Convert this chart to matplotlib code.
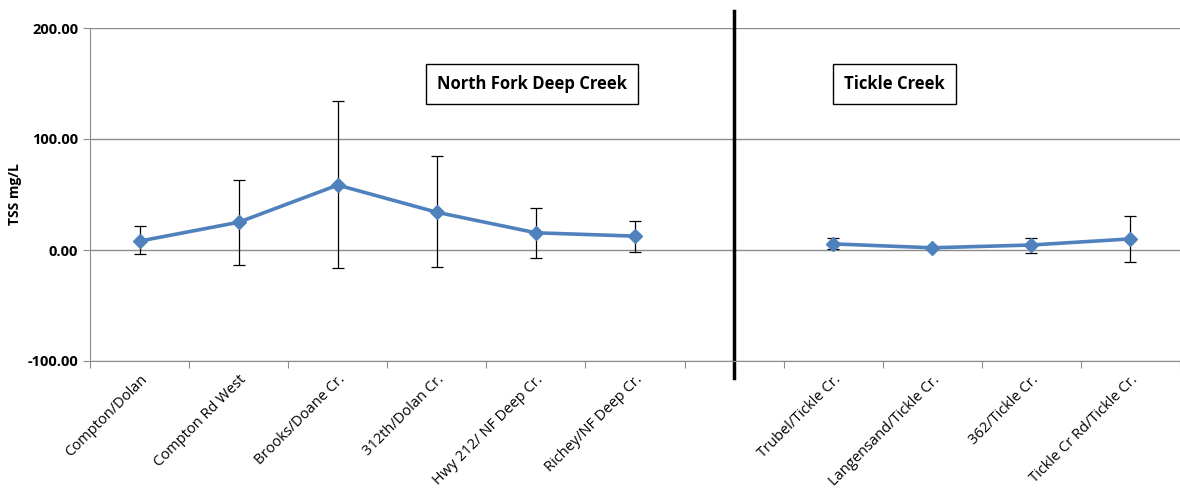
import numpy as np
import matplotlib.pyplot as plt
from matplotlib.transforms import ScaledTranslation

plt.rcParams['font.family'] = ['Open Sans', 'DejaVu Sans']

# Sites (an empty slot separates the two creeks)
sites = ['Compton/Dolan', 'Compton Rd West', 'Brooks/Doane Cr.', '312th/Dolan Cr.',
         'Hwy 212/ NF Deep Cr.', 'Richey/NF Deep Cr.', '',
         'Trubel/Tickle Cr.', 'Langensand/Tickle Cr.', '362/Tickle Cr.', 'Tickle Cr Rd/Tickle Cr.']
tss_mean = [8.0, 25.0, 58.5, 34.0, 15.5, 12.5, np.nan, 5.5, 2.0, 4.5, 10.0]
err_upper = [22.0, 63.5, 134.0, 85.0, 38.0, 26.0, np.nan, 11.0, 3.0, 11.0, 30.5]
err_lower = [-4.0, -13.5, -16.0, -15.0, -7.0, -2.0, np.nan, 0.5, 1.0, -3.0, -11.0]
y_ticks = [-100, 0, 100, 200]

x = np.arange(len(sites))
mean = np.array(tss_mean)
yerr = [mean - np.array(err_lower), np.array(err_upper) - mean]

fig = plt.figure(figsize=(11.8, 4.92), dpi=100)
ax = fig.add_axes([90 / 1180, 1 - 361 / 492, 1090 / 1180, 333 / 492])

ax.errorbar(x, mean, yerr=yerr, fmt='none', ecolor='black', elinewidth=0.9,
            capsize=4, capthick=0.9, zorder=2)
ax.plot(x, mean, color='#4F81BD', lw=2.6, marker='D', ms=7,
        markerfacecolor='#4F81BD', markeredgecolor='#4F81BD', zorder=3)

ax.set_xlim(-0.5, len(sites) - 0.5)
ax.set_ylim(-100, 200)
ax.set_yticks(y_ticks)
ax.set_yticklabels([f'{v:.2f}' for v in y_ticks], fontweight='bold', fontsize=10.5)
ax.yaxis.grid(True, color='#8c8c8c', lw=1)
ax.set_axisbelow(True)
ax.set_ylabel('TSS mg/L', fontweight='bold', fontsize=10)
ax.yaxis.set_label_coords(-0.062, 0.5)

ax.set_xticks(np.arange(len(sites) + 1) - 0.5)
ax.set_xticklabels([])
ax.set_xticks(x, minor=True)
ax.set_xticklabels(sites, minor=True, rotation=45, ha='right', va='top',
                   rotation_mode='anchor', fontsize=10.5)
shift = ScaledTranslation(-0.15, 0, fig.dpi_scale_trans)
for lbl in ax.get_xticklabels(minor=True):
    lbl.set_transform(lbl.get_transform() + shift)
ax.tick_params(axis='x', which='minor', length=0, pad=8)
ax.tick_params(axis='x', which='major', length=5, color='#8c8c8c')
ax.tick_params(axis='y', length=5, color='#8c8c8c')

for s in ['top', 'right']:
    ax.spines[s].set_visible(False)
for s in ['left', 'bottom']:
    ax.spines[s].set_color('#8c8c8c')

# separator between the two creeks
ax.axvline(6, ymin=-0.05, ymax=1.05, color='black', lw=2.5, clip_on=False)

box = dict(boxstyle='square,pad=0.65', facecolor='white', edgecolor='black', lw=1)
ax.text(3.96, 149.5, 'North Fork Deep Creek', ha='center', va='center',
        fontsize=12, fontweight='bold', bbox=box)
ax.text(7.62, 149.5, 'Tickle Creek', ha='center', va='center',
        fontsize=12, fontweight='bold', bbox=box)

fig.savefig('out.png', dpi=100)
